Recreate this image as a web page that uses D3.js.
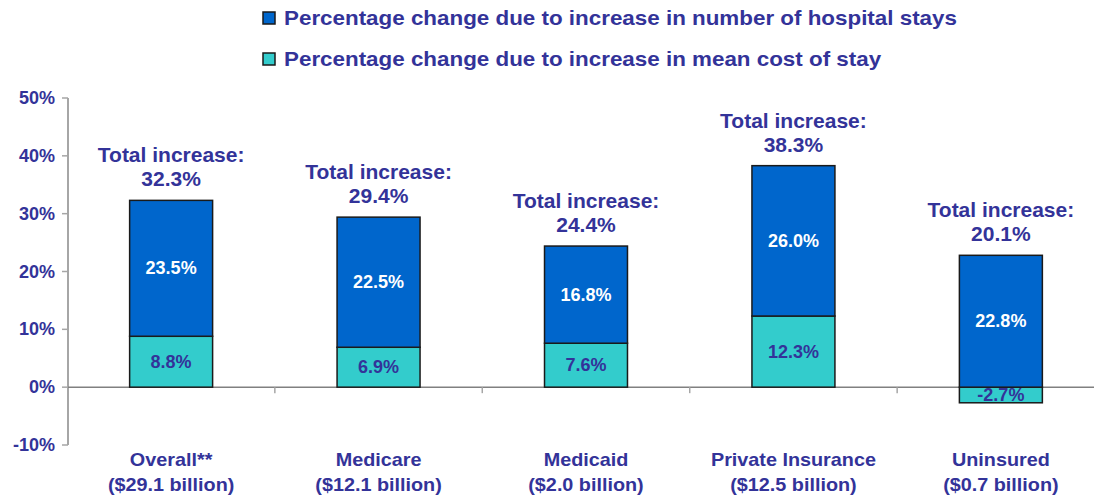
<!DOCTYPE html>
<html>
<head>
<meta charset="utf-8">
<script src="https://cdn.jsdelivr.net/npm/d3@7"></script>
<style>
  body { margin: 0; background: #fff; }
  svg text { font-family: Arial, "Liberation Sans", sans-serif; font-weight: bold; }
</style>
</head>
<body>
<div id="chart"></div>
<script>
const categories = ['Overall**', 'Medicare', 'Medicaid', 'Private Insurance', 'Uninsured'];
const billions = ['($29.1 billion)', '($12.1 billion)', '($2.0 billion)', '($12.5 billion)', '($0.7 billion)'];
const stayChange = [23.5, 22.5, 16.8, 26.0, 22.8];
const costChange = [8.8, 6.9, 7.6, 12.3, -2.7];
const totalChange = [32.3, 29.4, 24.4, 38.3, 20.1];
const yTicks = [-10, 0, 10, 20, 30, 40, 50];
const legendLabels = [
    'Percentage change due to increase in number of hospital stays',
    'Percentage change due to increase in mean cost of stay'
];

const width = 1094, height = 500;
const textColor = '#333399';
const stayColor = '#0066CC';
const costColor = '#33CCCC';

const svg = d3.select('#chart').append('svg')
    .attr('width', width)
    .attr('height', height);

const x = d3.scaleBand()
    .domain(categories)
    .range([67.4, 1104.6])
    .paddingInner(0.6)
    .paddingOuter(0.3);

const y = d3.scaleLinear()
    .domain([-10, 50])
    .range([445, 98]);

const rows = categories.map((c, i) => ({ cat: c, cost: costChange[i], stays: stayChange[i] }));
const series = d3.stack()
    .keys(['cost', 'stays'])
    .offset(d3.stackOffsetDiverging)(rows);

// y axis
const axisX = 68;
svg.append('line')
    .attr('x1', axisX).attr('x2', axisX)
    .attr('y1', y(50)).attr('y2', y(-10))
    .attr('stroke', '#a6a6a6').attr('stroke-width', 2);

yTicks.forEach(t => {
    svg.append('line')
        .attr('x1', axisX - 6).attr('x2', axisX)
        .attr('y1', y(t)).attr('y2', y(t))
        .attr('stroke', '#a6a6a6').attr('stroke-width', 1.5);
    svg.append('text')
        .attr('x', 55)
        .attr('y', y(t) + 6)
        .attr('text-anchor', 'end')
        .attr('font-size', '18px')
        .attr('fill', textColor)
        .text(t + '%');
});

// zero line and category separators
svg.append('line')
    .attr('x1', axisX).attr('x2', width)
    .attr('y1', y(0)).attr('y2', y(0))
    .attr('stroke', '#808080').attr('stroke-width', 1.5);

const step = x.step();
categories.slice(1).forEach(c => {
    const bx = x(c) + x.bandwidth() / 2 - step / 2;
    svg.append('line')
        .attr('x1', bx).attr('x2', bx)
        .attr('y1', y(0)).attr('y2', y(0) + 6)
        .attr('stroke', '#a6a6a6').attr('stroke-width', 1.5);
});

// bars
const colors = { cost: costColor, stays: stayColor };
series.forEach(s => {
    svg.append('g').selectAll('rect')
        .data(s)
        .join('rect')
        .attr('x', d => x(d.data.cat))
        .attr('width', x.bandwidth())
        .attr('y', d => y(Math.max(d[0], d[1])))
        .attr('height', d => Math.abs(y(d[0]) - y(d[1])))
        .attr('fill', colors[s.key])
        .attr('stroke', '#1a1a1a')
        .attr('stroke-width', 1.5);

    svg.append('g').selectAll('text')
        .data(s)
        .join('text')
        .attr('x', d => x(d.data.cat) + x.bandwidth() / 2)
        .attr('y', d => y((d[0] + d[1]) / 2) + 6)
        .attr('text-anchor', 'middle')
        .attr('font-size', '18px')
        .attr('fill', s.key === 'stays' ? '#fff' : textColor)
        .text(d => d.data[s.key].toFixed(1) + '%');
});

// total labels
const tops = rows.map((r, i) => d3.max(series, s => s[i][1]));
categories.forEach((c, i) => {
    const cx = x(c) + x.bandwidth() / 2;
    const ty = y(tops[i]) - 14;
    svg.append('text')
        .attr('x', cx).attr('y', ty - 24)
        .attr('text-anchor', 'middle')
        .attr('font-size', '21px')
        .attr('fill', textColor)
        .text('Total increase:');
    svg.append('text')
        .attr('x', cx).attr('y', ty)
        .attr('text-anchor', 'middle')
        .attr('font-size', '21px')
        .attr('fill', textColor)
        .text(totalChange[i].toFixed(1) + '%');
});

// x labels (the original type is a little wider than Arial)
categories.forEach((c, i) => {
    const cx = x(c) + x.bandwidth() / 2;
    [c, billions[i]].forEach((label, k) => {
        svg.append('text')
            .attr('transform', `translate(${cx},${466 + k * 25}) scale(1.1,1)`)
            .attr('text-anchor', 'middle')
            .attr('font-size', '18px')
            .attr('fill', textColor)
            .text(label);
    });
});

// legend
const legend = svg.append('g').attr('transform', 'translate(263,0)');
[stayColor, costColor].forEach((col, i) => {
    legend.append('rect')
        .attr('x', 0).attr('y', 12 + i * 41)
        .attr('width', 12).attr('height', 12)
        .attr('fill', col)
        .attr('stroke', '#1a1a1a')
        .attr('stroke-width', 1.5);
    legend.append('text')
        .attr('transform', `translate(21,${25 + i * 41}) scale(1.12,1)`)
        .attr('font-size', '20px')
        .attr('fill', textColor)
        .text(legendLabels[i]);
});
</script>
</body>
</html>
